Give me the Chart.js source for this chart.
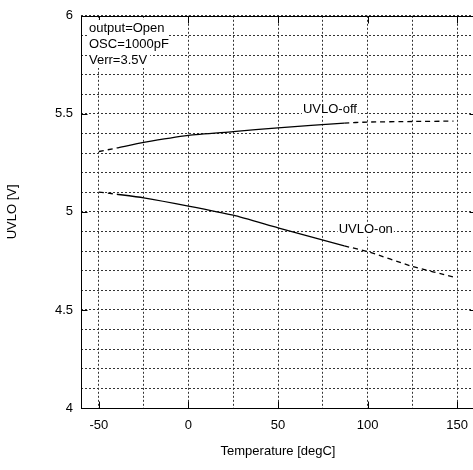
<!DOCTYPE html>
<html>
<head>
<meta charset="utf-8">
<script src="https://cdn.jsdelivr.net/npm/chart.js@4.4.1/dist/chart.umd.min.js"></script>
<style>
  html, body { margin: 0; padding: 0; overflow: hidden; background: #fff; }
  #wrap { width: 480px; height: 470px; }
</style>
</head>
<body>
<div id="wrap"><canvas id="chart" width="480" height="470"></canvas></div>
<script>
// axis ticks
const xTicks = [-50, -25, 0, 25, 50, 75, 100, 125, 150];
const yTicks = [4.0, 4.1, 4.2, 4.3, 4.4, 4.5, 4.6, 4.7, 4.8, 4.9, 5.0,
                5.1, 5.2, 5.3, 5.4, 5.5, 5.6, 5.7, 5.8, 5.9, 6.0];

// UVLO-off curve
const tempOff = [-50, -40, -25, 0, 25, 50, 87, 100, 125, 148];
const uvloOff = [5.308, 5.326, 5.354, 5.39, 5.409, 5.429, 5.453, 5.458, 5.461, 5.463];

// UVLO-on curve
const tempOn = [-50, -40, -25, 0, 25, 50, 87, 100, 125, 148];
const uvloOn = [5.101, 5.09, 5.072, 5.03, 4.983, 4.919, 4.827, 4.798, 4.722, 4.668];

// measured range is solid, the rest is dashed
const solidFrom = -40;
const solidTo = 87;

const notes = ['output=Open', 'OSC=1000pF', 'Verr=3.5V'];
const curveLabels = [
  { text: 'UVLO-off', x: 79, y: 5.525 },
  { text: 'UVLO-on', x: 99, y: 4.909 },
];

const FONT = '13px "Liberation Sans", Arial, sans-serif';

const dashOutside = ctx =>
  (ctx.p1.parsed.x <= solidFrom || ctx.p0.parsed.x >= solidTo) ? [5, 4] : undefined;

const toPoints = (xs, ys) => xs.map((x, i) => ({ x: x, y: ys[i] }));

const isMajorY = v => Math.abs(v * 2 - Math.round(v * 2)) < 1e-6;

// frame, inward ticks and the text boxes
const decorations = {
  id: 'decorations',
  afterDraw(chart) {
    const { ctx, chartArea: a, scales: { x, y } } = chart;
    const L = Math.round(a.left) + 0.5, R = Math.round(a.right) + 0.5;
    const T = Math.round(a.top) + 0.5, B = Math.round(a.bottom) + 0.5;
    ctx.save();
    ctx.strokeStyle = '#000';
    ctx.lineWidth = 1;
    ctx.setLineDash([]);
    ctx.strokeRect(L, T, R - L, B - T);

    ctx.beginPath();
    xTicks.filter(v => v % 50 === 0).forEach(v => {
      const px = Math.round(x.getPixelForValue(v)) + 0.5;
      ctx.moveTo(px, B); ctx.lineTo(px, B - 7);
      ctx.moveTo(px, T); ctx.lineTo(px, T + 7);
    });
    yTicks.filter(isMajorY).forEach(v => {
      const py = Math.round(y.getPixelForValue(v)) + 0.5;
      ctx.moveTo(L, py); ctx.lineTo(L + 6, py);
      ctx.moveTo(R, py); ctx.lineTo(R - 6, py);
    });
    ctx.stroke();

    ctx.font = FONT;
    ctx.textBaseline = 'middle';
    ctx.textAlign = 'left';
    notes.forEach((t, i) => {
      const cy = 28 + i * 16;
      const w = ctx.measureText(t).width;
      ctx.fillStyle = '#fff';
      ctx.fillRect(87, cy - 8, w + 5, 16);
      ctx.fillStyle = '#000';
      ctx.fillText(t, 89, cy);
    });

    ctx.textAlign = 'center';
    curveLabels.forEach(l => {
      const cx = x.getPixelForValue(l.x), cy = y.getPixelForValue(l.y);
      const w = ctx.measureText(l.text).width;
      ctx.fillStyle = '#fff';
      ctx.fillRect(cx - w / 2 - 1, cy - 7, w + 2, 14);
      ctx.fillStyle = '#000';
      ctx.fillText(l.text, cx, cy);
    });
    ctx.restore();
  }
};

new Chart(document.getElementById('chart'), {
  type: 'line',
  data: {
    datasets: [
      {
        label: 'UVLO-off',
        data: toPoints(tempOff, uvloOff),
        borderColor: '#000',
        borderWidth: 1.3,
        pointRadius: 0,
        tension: 0.2,
        segment: { borderDash: dashOutside },
      },
      {
        label: 'UVLO-on',
        data: toPoints(tempOn, uvloOn),
        borderColor: '#000',
        borderWidth: 1.3,
        pointRadius: 0,
        tension: 0.2,
        segment: { borderDash: dashOutside },
      },
    ],
  },
  options: {
    responsive: false,
    animation: false,
    devicePixelRatio: 1,
    layout: { padding: { top: 12, right: 5, left: 0, bottom: 0 } },
    plugins: {
      legend: { display: false },
      tooltip: { enabled: false },
    },
    scales: {
      x: {
        type: 'linear',
        min: -60,
        max: 160,
        afterBuildTicks: s => { s.ticks = xTicks.map(v => ({ value: v })); },
        afterFit: s => { s.height = 62; },
        grid: { color: '#333', lineWidth: 1, drawTicks: false },
        border: { display: false, dash: [2, 2] },
        ticks: {
          padding: 10,
          color: '#000',
          font: { family: '"Liberation Sans", Arial, sans-serif', size: 13 },
          maxRotation: 0,
          autoSkip: false,
          callback: v => (v % 50 === 0 ? String(v) : ''),
        },
        title: {
          display: true,
          text: 'Temperature [degC]',
          color: '#000',
          font: { family: '"Liberation Sans", Arial, sans-serif', size: 13 },
          padding: { top: 0, bottom: 11 },
        },
      },
      y: {
        type: 'linear',
        min: 4,
        max: 6,
        afterBuildTicks: s => { s.ticks = yTicks.map(v => ({ value: v })); },
        afterFit: s => { s.width = 81; },
        grid: { color: '#333', lineWidth: 1, drawTicks: false },
        border: { display: false, dash: [2, 2] },
        ticks: {
          padding: 8,
          color: '#000',
          font: { family: '"Liberation Sans", Arial, sans-serif', size: 13 },
          autoSkip: false,
          callback: v => (isMajorY(v) ? String(+v.toFixed(1)) : ''),
        },
        title: {
          display: true,
          text: 'UVLO [V]',
          color: '#000',
          font: { family: '"Liberation Sans", Arial, sans-serif', size: 13 },
          padding: { top: 5, bottom: 0 },
        },
      },
    },
  },
  plugins: [decorations],
});
</script>
</body>
</html>
